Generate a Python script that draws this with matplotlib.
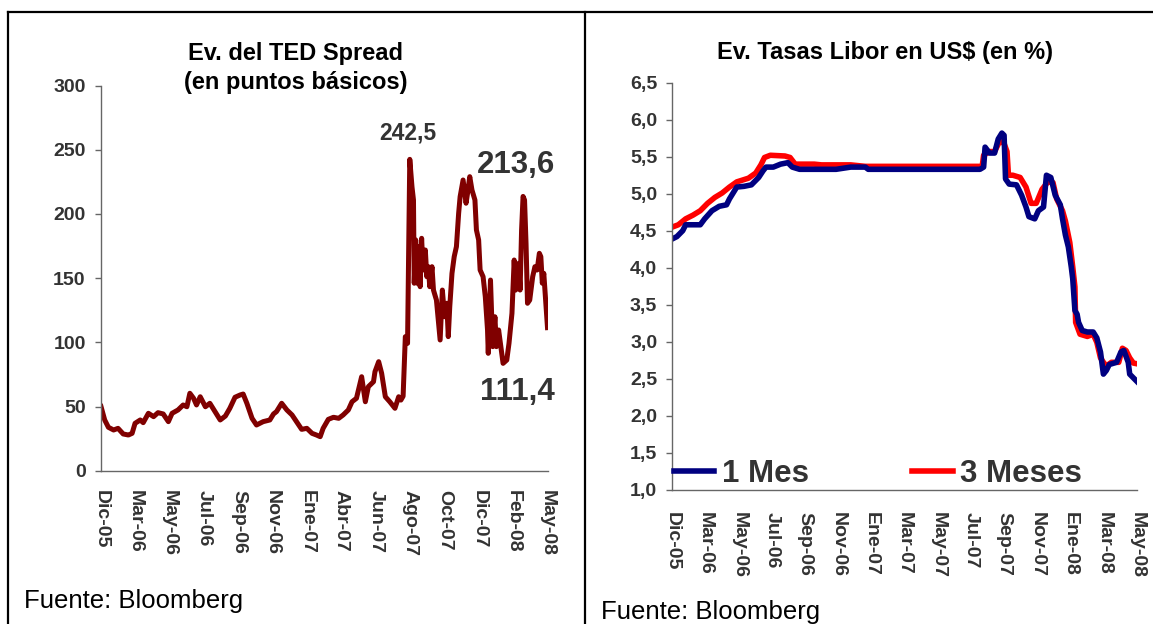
import matplotlib
matplotlib.use("Agg")
import matplotlib.pyplot as plt
import numpy as np
from matplotlib.lines import Line2D

plt.rcParams["font.family"] = ["Liberation Sans", "DejaVu Sans"]

# --- TED spread (puntos básicos), x = observation index ---
ted_day = [0, 5, 10, 17, 23, 30, 37, 42, 46, 53, 57, 64, 71, 77, 84, 91, 96, 104, 111, 116,
           120, 125, 129, 134, 141, 147, 154, 161, 168, 174, 181, 188, 192, 197, 204, 210, 219,
           228, 233, 237, 244, 251, 258, 264, 271, 278, 285, 291, 296, 300, 307, 314, 321, 327,
           334, 339, 345, 352, 357, 361, 368, 370, 375, 379, 384, 390, 397, 402, 405, 408,
           411, 414, 417, 420, 422, 423, 425, 427, 429, 431, 433, 435, 438, 440, 442, 444, 447,
           449, 453, 458, 461, 464, 467, 469, 471, 474, 477, 480, 483, 485, 489, 493, 495, 498,
           501, 505, 507, 510, 512, 516, 519, 522, 523, 526, 529, 532, 534, 537, 540, 543, 548,
           551, 555, 558, 560, 564, 566, 568, 570, 572, 574, 576, 579, 583, 586, 589, 592, 594,
           596, 598, 601, 603]
ted_val = [50, 39.5, 33.8, 31.7, 33, 28.6, 27.8, 29.1, 36.9, 39.5, 37.4, 44.7, 42.1, 45.2, 44.2,
           38.2, 44.7, 47.3, 51.2, 49.8, 60.3, 56.4, 51.2, 57.6, 49.8, 52.5, 46, 39.5, 42.6, 48.6,
           57.2, 59, 59.7, 52.5, 40.8, 35.6, 38.2, 39.5, 44.2, 46, 52.5, 47.3, 43.4, 38.2, 32.2,
           33, 29.1, 27.8, 26.5, 33, 40, 41.6, 40.8, 43.4, 47.3, 53.7, 56.4, 73.2, 53.7, 65.4,
           69.3, 77.1, 84.9, 75.9, 57.6, 53.7, 48.6, 57.6, 55, 58,
           104.4, 99.2, 242.5, 221, 210.8, 146, 179.7, 146, 174.5, 143.3, 181, 156.3, 171.9, 151.1,
           158.9, 143.3, 158.9, 140.7, 132.9, 101.8, 140.7, 119.9, 130.4, 104.4, 127.7, 153.7,
           166.7, 174.5, 200.5, 213.4, 226.4, 208.3, 216, 229, 218.6, 210.8, 187.5, 179.7, 156.3,
           151.1, 135.5, 109.6, 91.4, 148.5, 96.6, 119.9, 96.6, 109.6, 96.6, 83.6, 86.2, 99.2,
           122.6, 164.1, 140.7, 161.5, 140.7, 187.5, 213.6, 210.8, 177.1, 130.4, 132.9, 151.1,
           158.9, 156.3, 169.3, 166.7, 146, 153.7, 127.7, 111.4]
ted_labels = ["Dic-05", "Mar-06", "May-06", "Jul-06", "Sep-06", "Nov-06", "Ene-07", "Abr-07",
              "Jun-07", "Ago-07", "Oct-07", "Dic-07", "Feb-08", "May-08"]

# --- Libor US$ (%), x = observation index ---
mes1_day = [0, 6, 14, 18, 24, 38, 44, 54, 64, 74, 78, 88, 98, 108, 118, 124, 128, 138, 148, 158,
            164, 174, 224, 244, 264, 268, 324, 374, 421, 426, 428, 434, 441, 446, 451, 454, 456,
            461, 471, 478, 484, 488, 496, 501, 508, 512, 518, 524, 531, 534, 538, 542, 546, 548,
            551, 554, 556, 561, 568, 576, 581, 586, 590, 594, 598, 608, 614, 618, 624, 626, 631, 636]
mes1_val = [4.39, 4.42, 4.50, 4.58, 4.58, 4.58, 4.66, 4.77, 4.83, 4.85, 4.93, 5.09, 5.10, 5.12, 5.22,
            5.31, 5.36, 5.36, 5.40, 5.42, 5.36, 5.33, 5.33, 5.36, 5.36, 5.33, 5.33, 5.33, 5.33, 5.36,
            5.63, 5.55, 5.55, 5.74, 5.82, 5.79, 5.20, 5.13, 5.12, 4.98, 4.82, 4.69, 4.66, 4.77, 4.82,
            5.25, 5.22, 4.98, 4.85, 4.66, 4.44, 4.28, 4.01, 3.85, 3.42, 3.37, 3.26, 3.15, 3.13, 3.13,
            3.05, 2.86, 2.56, 2.61, 2.69, 2.72, 2.86, 2.88, 2.72, 2.56, 2.51, 2.46]
mes3_day = [0, 8, 18, 28, 38, 48, 58, 68, 78, 88, 104, 114, 121, 126, 134, 154, 161, 168, 194, 204,
            244, 264, 374, 424, 426, 434, 441, 448, 454, 458, 460, 466, 476, 484, 491, 498, 506,
            514, 521, 526, 534, 538, 544, 548, 551, 552, 558, 568, 576, 581, 586, 590, 594, 601,
            611, 616, 621, 626, 631, 636]
mes3_val = [4.55, 4.58, 4.66, 4.71, 4.77, 4.87, 4.95, 5.01, 5.09, 5.16, 5.21, 5.28, 5.39, 5.49, 5.52,
            5.51, 5.49, 5.40, 5.40, 5.39, 5.39, 5.37, 5.37, 5.37, 5.52, 5.57, 5.57, 5.71, 5.68, 5.57,
            5.25, 5.25, 5.22, 5.09, 4.87, 4.87, 5.06, 5.16, 5.15, 4.93, 4.77, 4.63, 4.34, 4.01, 3.74,
            3.26, 3.10, 3.07, 3.10, 2.99, 2.78, 2.72, 2.67, 2.72, 2.72, 2.91, 2.88, 2.78, 2.71, 2.70]
libor_labels = ["Dic-05", "Mar-06", "May-06", "Jul-06", "Sep-06", "Nov-06", "Ene-07", "Mar-07",
                "May-07", "Jul-07", "Sep-07", "Nov-07", "Ene-08", "Mar-08", "May-08"]

TEXT = "#333333"
AXIS = "#666666"

W, H = 1153, 624
fig = plt.figure(figsize=(W / 100, H / 100), dpi=100)


def px(x0, y0, x1, y1):
    """Pixel box (top-left origin) -> figure fraction [left, bottom, width, height]."""
    return [x0 / W, 1 - y1 / H, (x1 - x0) / W, (y1 - y0) / H]


def style_axes(ax, n_days, labels, xpad):
    ax.spines["top"].set_visible(False)
    ax.spines["right"].set_visible(False)
    for s in ("left", "bottom"):
        ax.spines[s].set_color(AXIS)
        ax.spines[s].set_linewidth(1.0)
    ax.set_xlim(0, n_days)
    ax.set_xticks(np.linspace(0, n_days, len(labels)))
    ax.set_xticklabels(labels, rotation=-90, fontsize=14, fontweight="bold", color=TEXT)
    ax.tick_params(axis="x", length=0, pad=xpad)
    ax.tick_params(axis="y", direction="out", length=4, width=1, color=AXIS, pad=7,
                   labelsize=14, labelcolor=TEXT)


# Panel borders
fig.add_artist(Line2D([8 / W, 1], [1 - 12 / H] * 2, color="black", lw=1.6))
fig.add_artist(Line2D([8 / W] * 2, [0, 1 - 12 / H], color="black", lw=1.6))
fig.add_artist(Line2D([585 / W] * 2, [0, 1 - 12 / H], color="black", lw=1.6))

# Left: TED spread
ax1 = fig.add_axes(px(101, 85.5, 547.5, 470.7))
ax1.plot(ted_day, ted_val, color="#800000", lw=3.6, solid_joinstyle="round")
ax1.set_ylim(0, 300)
ax1.set_yticks(range(0, 301, 50))
style_axes(ax1, ted_day[-1], ted_labels, xpad=14)
ax1.set_yticklabels([str(v) for v in range(0, 301, 50)], fontweight="bold")
fig.text(296 / W, 1 - 68 / H, "Ev. del TED Spread\n(en puntos básicos)", ha="center", va="center",
         fontsize=17, fontweight="bold", linespacing=1.3)
ax1.text(414, 263, "242,5", ha="center", va="center", fontsize=16.5, fontweight="bold", color=TEXT)
ax1.text(613, 238, "213,6", ha="right", va="center", fontsize=22.5, fontweight="bold", color=TEXT)
ax1.text(613, 61, "111,4", ha="right", va="center", fontsize=22.5, fontweight="bold", color=TEXT)
fig.text(24 / W, 1 - 601 / H, "Fuente: Bloomberg", ha="left", va="center", fontsize=18.5)

# Right: Libor
ax2 = fig.add_axes(px(672.5, 82.8, 1137, 489.5))
ax2.plot(mes3_day, mes3_val, color="#FF0000", lw=4, label="3 Meses", solid_joinstyle="round")
ax2.plot(mes1_day, mes1_val, color="#000080", lw=4, label="1 Mes", solid_joinstyle="round")
ax2.set_ylim(1.0, 6.5)
yt = np.arange(1.0, 6.51, 0.5)
ax2.set_yticks(yt)
style_axes(ax2, mes1_day[-1], libor_labels, xpad=16)
ax2.set_yticklabels([f"{v:.1f}".replace(".", ",") for v in yt], fontweight="bold")
for ax in (ax1, ax2):
    for lab in ax.get_yticklabels():
        lab.set_fontweight("bold")
fig.text(885 / W, 1 - 52 / H, "Ev. Tasas Libor en US$ (en %)", ha="center", va="center",
         fontsize=17, fontweight="bold")
handles, labels = ax2.get_legend_handles_labels()
leg = ax2.legend(handles[::-1], labels[::-1], loc="center left", ncol=2, frameon=False,
                 bbox_to_anchor=(1.5 / 464.5, 15.5 / 406.7), borderpad=0, borderaxespad=0,
                 columnspacing=3.3, handlelength=1.29, handletextpad=0.25,
                 prop={"size": 22.5, "weight": "bold"})
for t in leg.get_texts():
    t.set_color(TEXT)
fig.text(601 / W, 1 - 600 / H, "Fuente: Bloomberg", ha="left", va="top", fontsize=18.5)

fig.savefig("out.png", dpi=100)
